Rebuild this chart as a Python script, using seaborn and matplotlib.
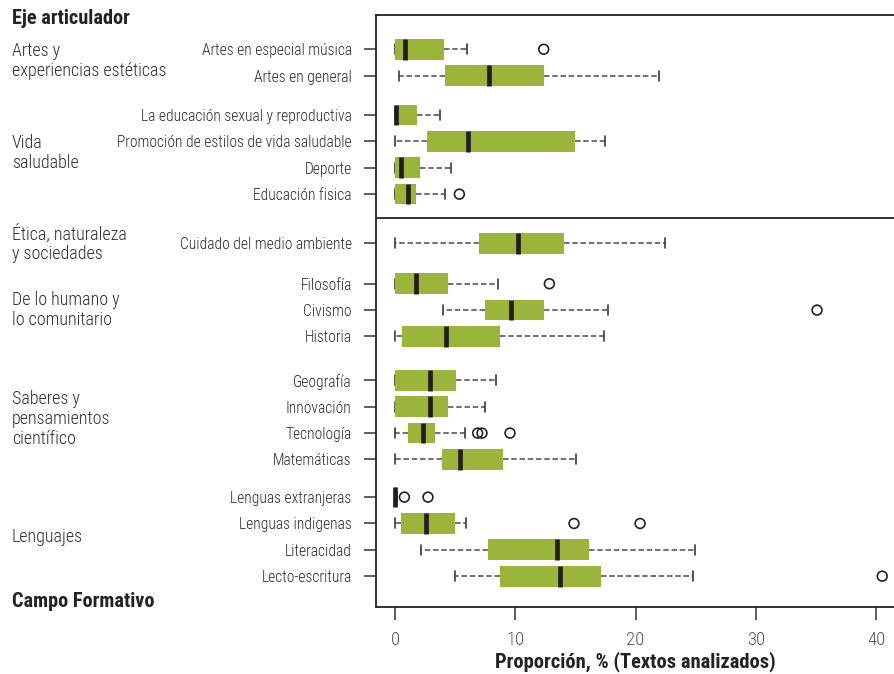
import matplotlib
matplotlib.use("Agg")
import matplotlib.pyplot as plt
import matplotlib.transforms as mtransforms
from matplotlib import font_manager as fm
import pandas as pd
import seaborn as sns

# Temas (eje articulador) y resumen de cinco números de cada caja
categorias = [
    "Artes en especial música", "Artes en general",
    "La educación sexual y reproductiva", "Promoción de estilos de vida saludable",
    "Deporte", "Educación fisica",
    "Cuidado del medio ambiente",
    "Filosofía", "Civismo", "Historia",
    "Geografía", "Innovación", "Tecnología", "Matemáticas",
    "Lenguas extranjeras", "Lenguas indigenas", "Literacidad", "Lecto-escritura",
]
bigote_inf = [0.0, 0.36, 0.0, 0.0, 0.0, 0.0, 0.0, 0.0, 3.96, 0.0,
              0.0, 0.0, 0.0, 0.0, 0.0, 0.0, 2.13, 5.01]
cuartil_1 = [0.0, 4.16, 0.0, 2.66, 0.0, 0.0, 6.98, 0.0, 7.48, 0.58,
             0.0, 0.0, 1.08, 3.91, 0.0, 0.5, 7.76, 8.76]
medianas = [0.86, 7.84, 0.05, 6.1, 0.53, 1.11, 10.2, 1.77, 9.67, 4.27,
            2.94, 2.94, 2.35, 5.43, 0.0, 2.58, 13.44, 13.74]
cuartil_3 = [4.05, 12.36, 1.8, 14.94, 2.05, 1.72, 14.02, 4.38, 12.36, 8.7,
             5.07, 4.41, 3.3, 8.98, 0.15, 4.96, 16.1, 17.1]
bigote_sup = [5.96, 21.95, 3.74, 17.46, 4.63, 4.18, 22.44, 8.53, 17.73, 17.4,
              8.4, 7.45, 5.85, 15.07, 0.15, 5.9, 24.96, 24.77]
atipicos = [[12.36], [], [], [], [], [5.35], [], [12.83], [35.08], [],
            [], [], [6.87, 7.23, 9.56], [], [0.78, 2.74], [14.88, 20.37], [], [40.5]]

# Campos formativos (texto de grupo a la izquierda)
campos = [
    "Artes y\nexperiencias estéticas", "Vida\nsaludable",
    "Ética, naturaleza\ny sociedades", "De lo humano y\nlo comunitario",
    "Saberes y\npensamientos\ncientífico", "Lenguajes",
]

# Disposición vertical de las filas y de los rótulos de grupo
posiciones = [0, 1, 2.5, 3.5, 4.5, 5.5, 7.37, 8.9, 9.9, 10.9,
              12.57, 13.57, 14.57, 15.57, 17.0, 18.0, 19.0, 20.0]
pos_campos = [0.44, 3.94, 7.39, 9.89, 14.03, 18.51]

VERDE = "#9bb53c"
NEGRO = "#231f20"

sns.set_theme(style="white")

# Tipografía estrecha si está instalada
fuentes = fm.fontManager.ttflist
familia = ["DejaVu Sans"]
estrecha = False
for nom in ["Liberation Sans Narrow", "Roboto Condensed", "Open Sans Condensed",
            "Noto Sans Condensed"]:
    if any(f.name == nom for f in fuentes):
        familia = [nom, "DejaVu Sans"]
        estrecha = True
        break
plt.rcParams["font.family"] = familia
ligera = "light" if any(f.name == familia[0] and f.weight in (300, "light")
                        for f in fuentes) else "normal"

fig = plt.figure(figsize=(8.95, 6.74), dpi=100)
ax = fig.add_axes([376 / 895, 67 / 674, 1 - 376 / 895, 592 / 674])

stats = [
    dict(label=c, whislo=lo, q1=a, med=m, q3=b, whishi=hi, fliers=[])
    for c, lo, a, m, b, hi in zip(categorias, bigote_inf, cuartil_1,
                                  medianas, cuartil_3, bigote_sup)
]
partes = ax.bxp(
    stats, positions=posiciones, vert=False, widths=0.785, patch_artist=True,
    showfliers=False, capwidths=0.38,
    boxprops=dict(facecolor=VERDE, edgecolor="none", linewidth=0),
    medianprops=dict(color=NEGRO, linewidth=3.4, solid_capstyle="butt"),
    whiskerprops=dict(color="#4a4a4a", linewidth=1.1, linestyle=(0, (3.6, 1.8))),
    capprops=dict(color="#3a3a3a", linewidth=1.2),
    manage_ticks=False,
)
# Bigotes y topes por debajo de las cajas; medianas encima
for ln in partes["whiskers"] + partes["caps"]:
    ln.set_zorder(1.5)
for caja in partes["boxes"]:
    caja.set_zorder(2)
for ln in partes["medians"]:
    ln.set_zorder(4)

# Valores atípicos como círculos abiertos
filas = [(p, v) for p, vals in zip(posiciones, atipicos) for v in vals]
df_out = pd.DataFrame(filas, columns=["pos", "valor"])
sns.scatterplot(data=df_out, x="valor", y="pos", ax=ax, marker="o", s=50,
                facecolor="none", edgecolor="#222222", linewidth=1.2, zorder=5)

tam_tick = 11.2 if estrecha else 10
tam_campo = 13 if estrecha else 12
tam_titulo = 14.6 if estrecha else 12.5

ax.set_xlim(-1.58, 41.56)
ax.set_ylim(21.17, -1.30)
ax.set_xticks([0, 10, 20, 30, 40])
ax.set_yticks(posiciones, categorias)
ax.tick_params(axis="y", length=9, width=1.1, pad=8.5, labelsize=tam_tick,
               labelcolor="#2a2a2a", color="#333333", left=True)
ax.tick_params(axis="x", length=9, width=1.1, pad=8, labelsize=13.5,
               labelcolor="#555555", color="#333333", bottom=True)
for lab in ax.get_yticklabels() + ax.get_xticklabels():
    lab.set_fontweight(ligera)
ax.set_xlabel("Proporción, % (Textos analizados)", fontsize=14.8,
              fontweight="bold", color="#222222", labelpad=2)
ax.set_ylabel("")

for side in ["left", "top", "bottom"]:
    ax.spines[side].set_visible(True)
    ax.spines[side].set_color("#222222")
    ax.spines[side].set_linewidth(1.3)
ax.spines["right"].set_visible(False)

# Línea que separa los dos bloques de temas
ax.axhline(6.40, color="#222222", linewidth=1.3)

trans = mtransforms.blended_transform_factory(fig.transFigure, ax.transData)
x0 = 12 / 895
for txt, y in zip(campos, pos_campos):
    ax.text(x0, y, txt, transform=trans, ha="left", va="center",
            fontsize=tam_campo, fontweight=ligera, color="#2e2e2e",
            linespacing=1.12, clip_on=False)
ax.text(x0, -1.15, "Eje articulador", transform=trans, ha="left", va="center",
        fontsize=tam_titulo, fontweight="bold", color="#222222", clip_on=False)
ax.text(x0, 20.97, "Campo Formativo", transform=trans, ha="left", va="center",
        fontsize=tam_titulo, fontweight="bold", color="#222222", clip_on=False)

fig.savefig("out.png", dpi=100)
